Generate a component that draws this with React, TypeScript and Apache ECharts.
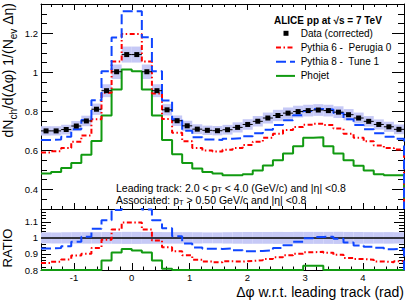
import React, { useEffect, useRef } from 'react';
import * as echarts from 'echarts';

const FONT = '"Liberation Sans", Arial, Helvetica, sans-serif';

// Binning: 36 bins over [-pi/2, 3pi/2]
const X_MIN = -Math.PI / 2;
const X_MAX = (3 * Math.PI) / 2;
const N_BINS = 36;
const BIN_W = (X_MAX - X_MIN) / N_BINS;
const binCenters = Array.from({ length: N_BINS }, (_, i) => X_MIN + (i + 0.5) * BIN_W);

const TOP_MIN = 0.3;
const TOP_MAX = 1.35;
const RATIO_MIN = 0.8;
const RATIO_MAX = 1.18;

// Tick labels
const xTickLabels = [-1, 0, 1, 2, 3, 4];
const topYTickLabels = [0.4, 0.6, 0.8, 1, 1.2];
const ratioYTickLabels = [0.8, 0.9, 1, 1.1];

// Data (corrected)
const dataValues = [
  0.700, 0.700, 0.707, 0.725, 0.751, 0.811, 0.906, 1.003, 1.091, 1.091, 1.003, 0.906,
  0.808, 0.752, 0.726, 0.709, 0.703, 0.701, 0.706, 0.718, 0.733, 0.749, 0.766, 0.779,
  0.791, 0.799, 0.804, 0.807, 0.804, 0.796, 0.783, 0.766, 0.749, 0.733, 0.721, 0.708,
];
// Systematic uncertainty (half-width of shaded band)
const dataSysErr = [
  0.024, 0.024, 0.025, 0.026, 0.027, 0.029, 0.033, 0.037, 0.041, 0.041, 0.037, 0.033,
  0.029, 0.027, 0.026, 0.025, 0.024, 0.024, 0.025, 0.026, 0.027, 0.027, 0.028, 0.029,
  0.029, 0.030, 0.030, 0.030, 0.030, 0.030, 0.029, 0.028, 0.027, 0.026, 0.026, 0.025,
];
// Pythia 6 - Perugia 0
const pythia6Values = [
  0.590, 0.596, 0.612, 0.645, 0.677, 0.760, 0.895, 1.055, 1.196, 1.196, 1.055, 0.892,
  0.761, 0.690, 0.647, 0.613, 0.600, 0.595, 0.603, 0.612, 0.628, 0.645, 0.665, 0.685,
  0.705, 0.720, 0.732, 0.737, 0.730, 0.712, 0.685, 0.665, 0.647, 0.625, 0.612, 0.605,
];
// Pythia 8 - Tune 1
const pythia8Values = [
  0.654, 0.656, 0.670, 0.708, 0.756, 0.857, 1.005, 1.178, 1.313, 1.313, 1.180, 1.006,
  0.856, 0.760, 0.701, 0.667, 0.656, 0.653, 0.660, 0.663, 0.672, 0.688, 0.706, 0.730,
  0.755, 0.780, 0.802, 0.812, 0.810, 0.792, 0.760, 0.730, 0.708, 0.688, 0.670, 0.660,
];
// Phojet
const phojetValues = [
  0.482, 0.490, 0.510, 0.535, 0.578, 0.648, 0.779, 0.912, 1.015, 1.006, 0.912, 0.779,
  0.653, 0.580, 0.535, 0.508, 0.490, 0.482, 0.473, 0.473, 0.478, 0.497, 0.523, 0.550,
  0.584, 0.622, 0.665, 0.667, 0.622, 0.584, 0.550, 0.522, 0.497, 0.478, 0.473, 0.473,
];

const RED = '#ff0000';
const BLUE = '#0f45ff';
const GREEN = '#119a11';
const BAND = '#c6c9f6';
const RED_DASH = [5, 2.5, 1.5, 2.5];
const BLUE_DASH = [10, 4];

const range = (from: number, to: number, step: number) => {
  const out: number[] = [];
  for (let v = from; v <= to + 1e-9; v += step) out.push(Math.round(v * 1000) / 1000);
  return out;
};
const isMajor = (v: number, majors: number[]) => majors.some((m) => Math.abs(m - v) < 1e-6);

const xMinor = range(-1.4, 4.6, 0.2).filter((v) => !isMajor(v, xTickLabels));
const topYMajor = topYTickLabels;
const topYMinor = range(0.3, 1.35, 0.05).filter((v) => !isMajor(v, topYMajor));
const ratioYMinor = range(0.8, 1.18, 0.02).filter((v) => !isMajor(v, ratioYTickLabels));

const histPath = (vals: number[], floor: number) => {
  const pts: number[][] = [];
  vals.forEach((v, i) => {
    pts.push([X_MIN + i * BIN_W, v]);
    pts.push([X_MIN + (i + 1) * BIN_W, v]);
  });
  pts.push([X_MAX, floor]);
  return pts;
};
const ratioOf = (vals: number[]) => vals.map((v, i) => Math.max(RATIO_MIN, v / dataValues[i]));

const fmt = (v: number) => String(Math.round(v * 100) / 100);

const xAx = (grid: number, pos: string, ticks: number[], len: number, line: boolean, labels: boolean) => ({
  type: 'value',
  gridIndex: grid,
  position: pos,
  min: X_MIN,
  max: X_MAX,
  axisLine: { show: line, onZero: false, lineStyle: { color: '#000', width: 1 } },
  axisTick: { show: true, inside: true, length: len, customValues: ticks, lineStyle: { color: '#000', width: 1 } },
  axisLabel: labels
    ? { show: true, customValues: xTickLabels, formatter: fmt, fontSize: 9.5, fontFamily: FONT, color: '#000', margin: 2 }
    : { show: false },
  splitLine: { show: false },
});

const yAx = (grid: number, pos: string, min: number, max: number, ticks: number[], len: number, line: boolean, labels: number[] | null) => ({
  type: 'value',
  gridIndex: grid,
  position: pos,
  min,
  max,
  axisLine: { show: line, onZero: false, lineStyle: { color: '#000', width: 1 } },
  axisTick: { show: true, inside: true, length: len, customValues: ticks, lineStyle: { color: '#000', width: 1 } },
  axisLabel: labels
    ? { show: true, customValues: labels, formatter: fmt, fontSize: 9.5, fontFamily: FONT, color: '#000', margin: 3 }
    : { show: false },
  splitLine: { show: false },
});

const histSeries = (name: string, vals: number[], floor: number, color: string, dash: any, xi: number, yi: number, z: number) => ({
  name,
  type: 'line',
  xAxisIndex: xi,
  yAxisIndex: yi,
  data: histPath(vals, floor),
  showSymbol: false,
  symbol: 'none',
  z,
  lineStyle: { color, width: 2, type: dash },
  clip: true,
});

const bandSeries = (xi: number, yi: number, rows: number[][]) => ({
  type: 'custom',
  xAxisIndex: xi,
  yAxisIndex: yi,
  z: 1,
  clip: true,
  data: rows,
  renderItem: (_p: any, api: any) => {
    const c = api.value(0);
    const v = api.value(1);
    const e = api.value(2);
    const a = api.coord([c - BIN_W / 2, v + e]);
    const b = api.coord([c + BIN_W / 2, v - e]);
    return {
      type: 'rect',
      shape: { x: a[0], y: a[1], width: b[0] - a[0], height: b[1] - a[1] },
      style: { fill: BAND },
    };
  },
});

const richSub = (main: number, sub: number, lh: number, sublh: number) => ({
  m: { fontSize: main, fontFamily: FONT, fill: '#000', color: '#000', lineHeight: lh },
  s: { fontSize: sub, fontFamily: FONT, fill: '#000', color: '#000', lineHeight: sublh, verticalAlign: 'bottom' },
});

const textEl = (x: number, y: number, text: string, size: number, align: string, extra: any = {}) => ({
  type: 'text',
  x,
  y,
  ...(extra.rotation ? { rotation: extra.rotation } : {}),
  style: {
    text,
    fontFamily: FONT,
    fontSize: size,
    fontWeight: extra.bold ? 'bold' : 'normal',
    fill: '#000',
    align,
    textAlign: align,
    verticalAlign: 'middle',
    textVerticalAlign: 'middle',
    ...(extra.rich ? { rich: extra.rich } : {}),
  },
});

export default function App() {
  const ref = useRef<HTMLDivElement>(null);

  useEffect(() => {
    if (!ref.current) return;
    const chart = echarts.init(ref.current, undefined, { renderer: 'svg' });

    const legendY = [33.3, 47.5, 61.7, 75.9];

    const option: any = {
      animation: false,
      backgroundColor: '#fff',
      grid: [
        { left: 41, top: 4, width: 363, height: 205 },
        { left: 41, top: 209, width: 363, height: 61 },
      ],
      xAxis: [
        xAx(0, 'bottom', xTickLabels, 6, true, false),
        xAx(0, 'bottom', xMinor, 3, false, false),
        xAx(0, 'top', xTickLabels, 6, true, false),
        xAx(0, 'top', xMinor, 3, false, false),
        xAx(1, 'bottom', xTickLabels, 7, true, true),
        xAx(1, 'bottom', xMinor, 3.5, false, false),
      ],
      yAxis: [
        yAx(0, 'left', TOP_MIN, TOP_MAX, topYMajor, 12, true, topYTickLabels),
        yAx(0, 'left', TOP_MIN, TOP_MAX, topYMinor, 6, false, null),
        yAx(0, 'right', TOP_MIN, TOP_MAX, topYMajor, 12, true, null),
        yAx(0, 'right', TOP_MIN, TOP_MAX, topYMinor, 6, false, null),
        yAx(1, 'left', RATIO_MIN, RATIO_MAX, ratioYTickLabels, 10, true, ratioYTickLabels),
        yAx(1, 'left', RATIO_MIN, RATIO_MAX, ratioYMinor, 5, false, null),
        yAx(1, 'right', RATIO_MIN, RATIO_MAX, ratioYTickLabels, 10, true, null),
        yAx(1, 'right', RATIO_MIN, RATIO_MAX, ratioYMinor, 5, false, null),
      ],
      series: [
        // top panel
        bandSeries(0, 0, binCenters.map((c, i) => [c, dataValues[i], dataSysErr[i]])),
        histSeries('Phojet', phojetValues, TOP_MIN, GREEN, 'solid', 0, 0, 2),
        histSeries('Pythia 6 - Perugia 0', pythia6Values, TOP_MIN, RED, RED_DASH, 0, 0, 2),
        histSeries('Pythia 8 - Tune 1', pythia8Values, TOP_MIN, BLUE, BLUE_DASH, 0, 0, 2),
        {
          name: 'Data (corrected)',
          type: 'custom',
          xAxisIndex: 0,
          yAxisIndex: 0,
          z: 3,
          data: binCenters.map((c, i) => [c, dataValues[i]]),
          renderItem: (_p: any, api: any) => {
            const c = api.value(0);
            const v = api.value(1);
            const p0 = api.coord([c - BIN_W / 2, v]);
            const p1 = api.coord([c + BIN_W / 2, v]);
            const pc = api.coord([c, v]);
            return {
              type: 'group',
              children: [
                { type: 'line', shape: { x1: p0[0], y1: p0[1], x2: p1[0], y2: p1[1] }, style: { stroke: '#000', lineWidth: 1 } },
                { type: 'rect', shape: { x: pc[0] - 2.5, y: pc[1] - 2.5, width: 5, height: 5 }, style: { fill: '#000' } },
              ],
            };
          },
        },
        // ratio panel
        bandSeries(4, 4, binCenters.map((c, i) => [c, 1, dataSysErr[i] / dataValues[i]])),
        {
          type: 'line',
          xAxisIndex: 4,
          yAxisIndex: 4,
          z: 1.5,
          showSymbol: false,
          symbol: 'none',
          data: [[X_MIN, 1], [X_MAX, 1]],
          lineStyle: { color: '#000', width: 1.5 },
        },
        histSeries('Phojet ratio', ratioOf(phojetValues), RATIO_MIN, GREEN, 'solid', 4, 4, 2),
        histSeries('Pythia 6 ratio', ratioOf(pythia6Values), RATIO_MIN, RED, RED_DASH, 4, 4, 2),
        histSeries('Pythia 8 ratio', ratioOf(pythia8Values), RATIO_MIN, BLUE, BLUE_DASH, 4, 4, 2),
      ],
      graphic: [
        // legend
        textEl(274, 20, 'ALICE pp at √s = 7 TeV', 10, 'left', { bold: true }),
        { type: 'rect', shape: { x: 283.5, y: legendY[0] - 2.5, width: 5, height: 5 }, style: { fill: '#000' } },
        textEl(300.7, legendY[0], 'Data (corrected)', 10, 'left'),
        { type: 'line', shape: { x1: 276, y1: legendY[1], x2: 295, y2: legendY[1] }, style: { stroke: RED, lineWidth: 2, lineDash: RED_DASH } },
        textEl(300.7, legendY[1], 'Pythia 6 -  Perugia 0', 10, 'left'),
        { type: 'line', shape: { x1: 276, y1: legendY[2], x2: 295, y2: legendY[2] }, style: { stroke: BLUE, lineWidth: 2, lineDash: BLUE_DASH } },
        textEl(300.7, legendY[2], 'Pythia 8 -  Tune 1', 10, 'left'),
        { type: 'line', shape: { x1: 276, y1: legendY[3], x2: 295, y2: legendY[3] }, style: { stroke: GREEN, lineWidth: 2 } },
        textEl(300.7, legendY[3], 'Phojet', 10, 'left'),
        // selection text
        textEl(116, 187.7, '{m|Leading track: 2.0 < p}{s|T}{m| < 4.0 (GeV/c) and |η| <0.8}', 10.5, 'left', {
          rich: richSub(10.5, 7.5, 12, 5),
        }),
        textEl(116, 200.3, '{m|Associated: p}{s|T}{m| > 0.50 GeV/c and |η| <0.8}', 10.5, 'left', {
          rich: richSub(10.5, 7.5, 12, 5),
        }),
        // axis titles
        textEl(8, 3, '{m|dN}{s|ch}{m|/d(Δφ) 1/(N}{s|ev}{m| Δη)}', 14, 'right', {
          rotation: Math.PI / 2,
          rich: richSub(14, 10, 20, 9),
        }),
        textEl(7, 248, 'RATIO', 13, 'center', { rotation: Math.PI / 2 }),
        textEl(404, 291.5, 'Δφ w.r.t. leading track (rad)', 14, 'right'),
      ],
    };

    chart.setOption(option);
    return () => chart.dispose();
  }, []);

  return (
    <div
      ref={ref}
      style={{ position: 'fixed', left: 0, top: 0, width: 414, height: 300, background: '#fff' }}
    />
  );
}
